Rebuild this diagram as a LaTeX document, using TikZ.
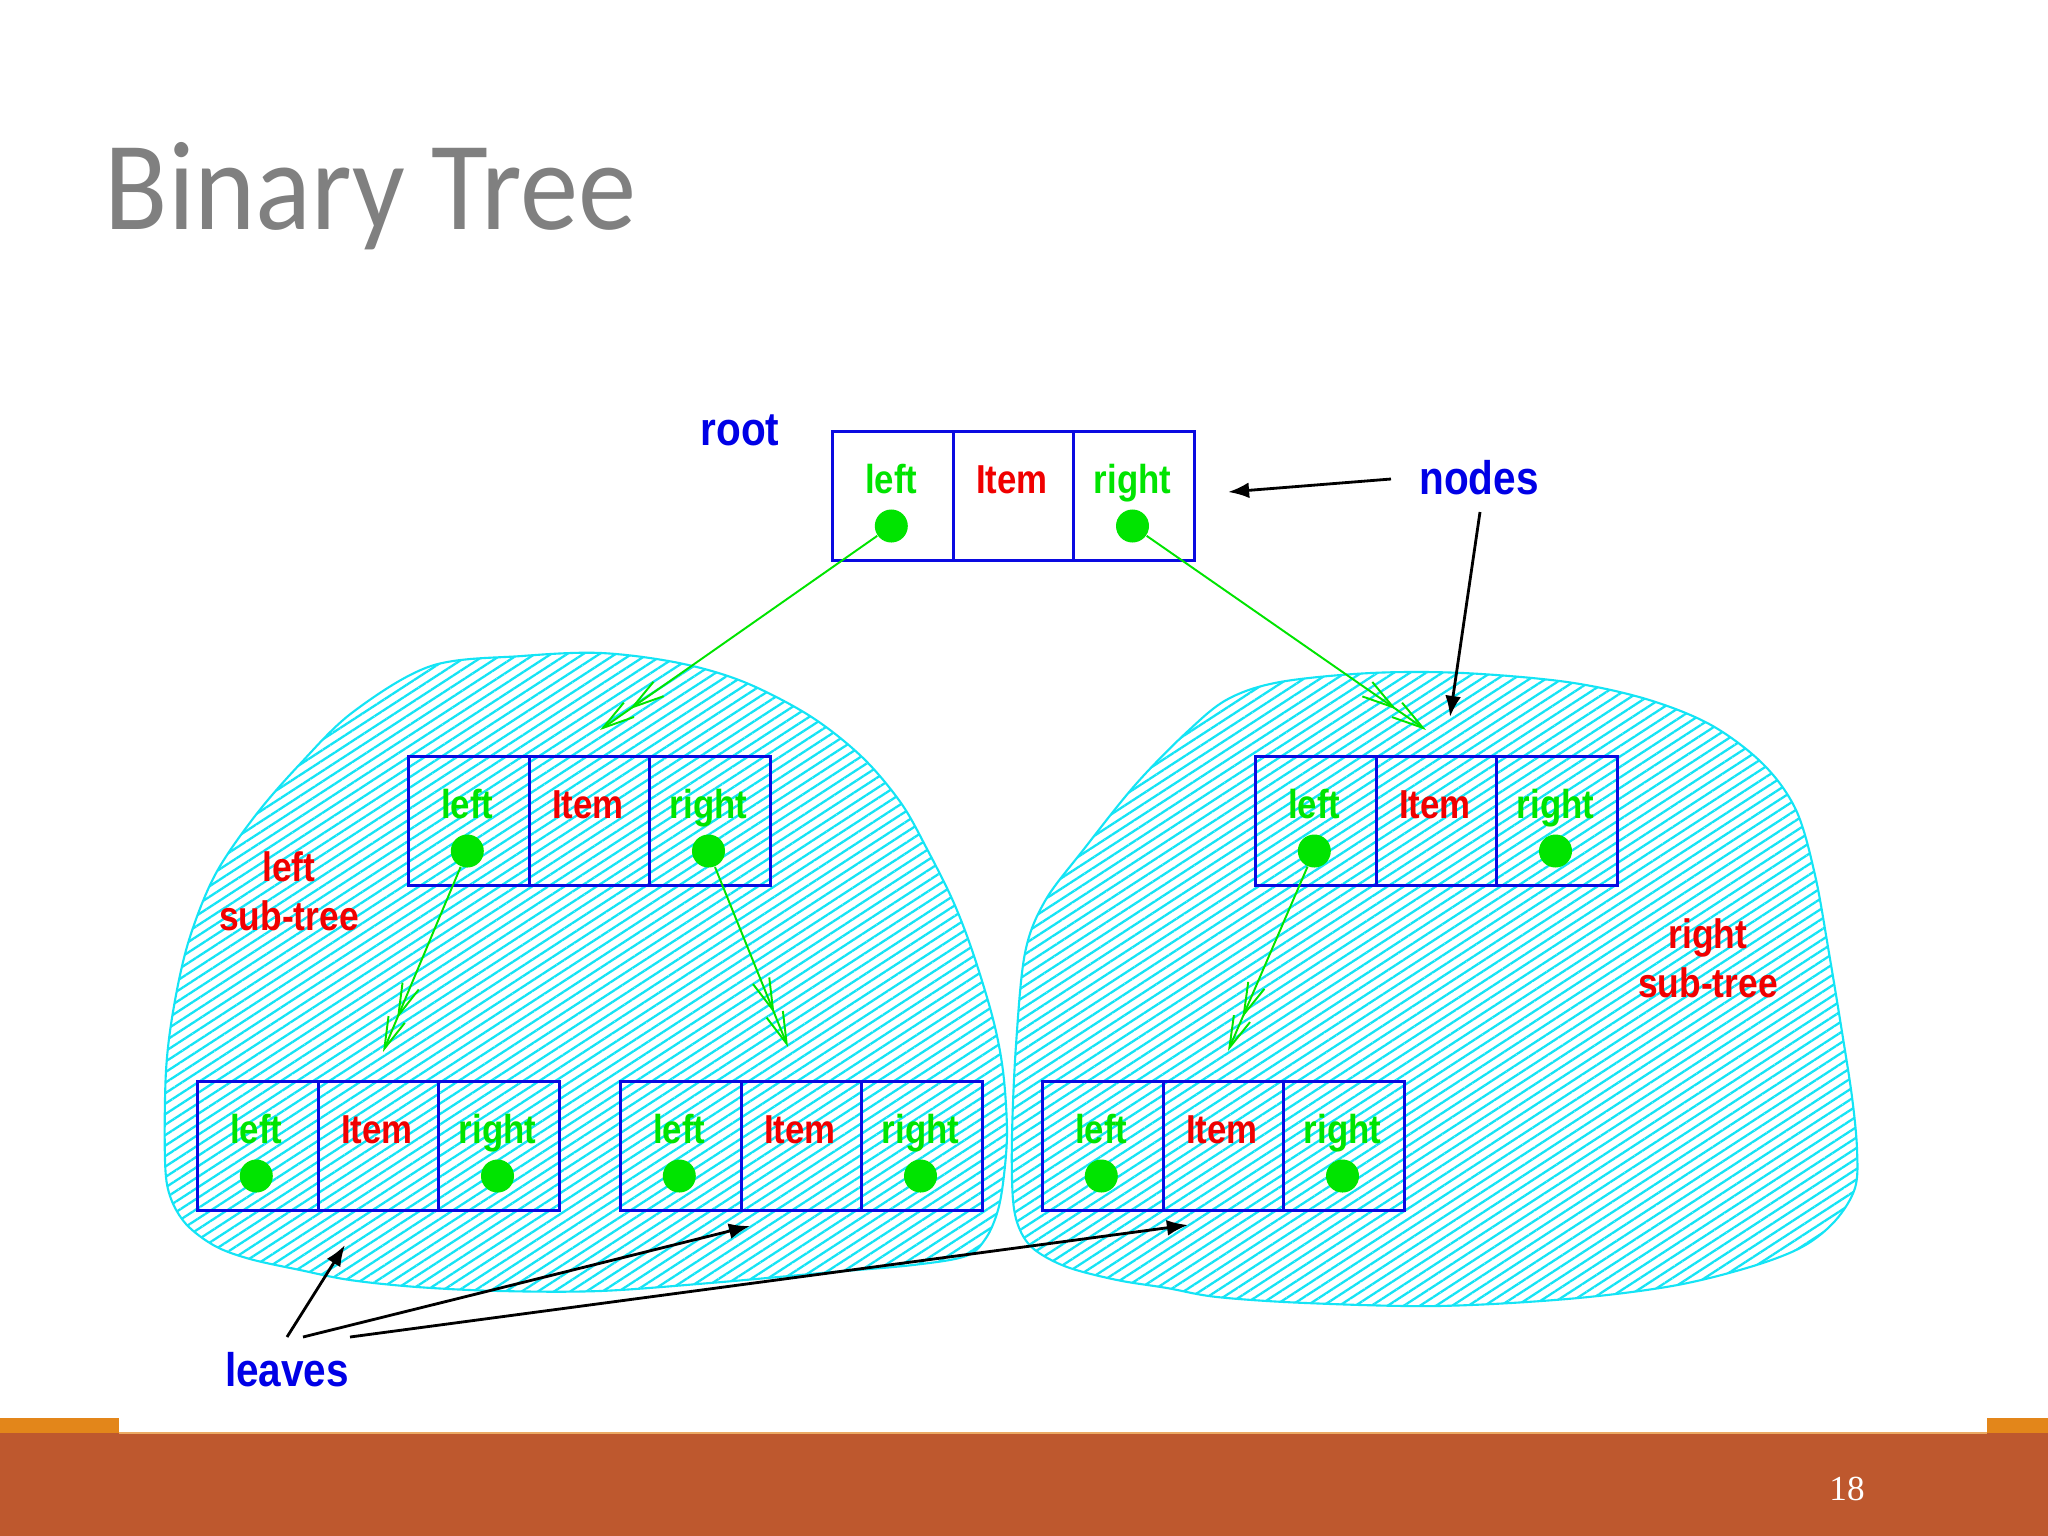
\documentclass[tikz,border=0pt]{standalone}
\usepackage{fontspec}
\usetikzlibrary{arrows.meta,patterns.meta}
\newfontfamily\pixfont[FakeStretch=0.86]{Liberation Sans}
\newfontfamily\titlefont[FakeStretch=0.92]{Carlito}
\newfontfamily\numfont{Liberation Serif}
\definecolor{boxblue}{RGB}{10,10,225}
\definecolor{tblue}{RGB}{0,0,230}
\definecolor{lgreen}{RGB}{0,228,0}
\definecolor{ired}{RGB}{240,0,0}
\definecolor{hatch}{RGB}{20,228,245}
\definecolor{titlegray}{RGB}{128,128,128}
\definecolor{barc}{RGB}{190,88,46}
\definecolor{tabc}{RGB}{227,134,26}
\definecolor{barline}{RGB}{236,170,100}
\tikzset{
  cell/.style={draw=boxblue, line width=0.9pt, minimum width=1.206cm, minimum height=1.29cm, inner sep=0pt, anchor=north west},
  ctext/.style={anchor=base, inner sep=0pt, font=\pixfont\bfseries\fontsize{11.5}{12}\selectfont},
  dot/.style={circle, fill=lgreen, minimum size=0.33cm, inner sep=0pt},
  lbl/.style={inner sep=0pt, text=tblue, font=\pixfont\bfseries\fontsize{13.4}{14}\selectfont},
  sublbl/.style={inner sep=0pt, text=ired, align=center, font=\pixfont\bfseries\fontsize{11.7}{13.9}\selectfont},
  garrow/.style={draw=lgreen, line width=0.55pt, -{Straight Barb[length=9pt,width=5pt]Straight Barb[length=9pt,width=5pt]}},
  barrow/.style={draw=black, line width=0.8pt, -{Latex[length=6pt,width=4.5pt]}},
  blob/.style={draw=hatch, line width=0.6pt, pattern={Lines[angle=33,distance=2.5pt,line width=0.65pt]}, pattern color=hatch},
}
\newcommand\treenode[3]{%
  \node[cell] (#1L) at (#2,#3) {};
  \node[cell] (#1I) at ({#2+120.6},#3) {};
  \node[cell] (#1R) at ({#2+241.2},#3) {};
  \node[ctext,text=lgreen] (#1Lt) at ({#2+60.3},{#3+63}) {left};
  \node[ctext,text=ired] (#1It) at ({#2+180.9},{#3+63}) {Item};
  \node[ctext,text=lgreen] (#1Rt) at ({#2+301.5},{#3+63}) {right};
  \node[dot] (#1Ld) at ({#2+60.3},{#3+96}) {};
  \node[dot] (#1Rd) at ({#2+301.5},{#3+96}) {};
}
\begin{document}
\begin{tikzpicture}[x=0.01cm,y=-0.01cm]
\useasboundingbox (0,0) rectangle (2048,1536);
\fill[white] (0,0) rectangle (2048,1536);
% title
\node[anchor=base west, inner sep=0pt, text=titlegray, font=\titlefont\fontsize{36}{40}\selectfont] (title) at (104,229) {Binary Tree};
% blobs
\path[blob] plot[smooth cycle, tension=0.55] coordinates {
 (431,666) (522,656) (601,653) (679,663) (744,682) (810,716) (862,757) (901,803) (927,849) (953,901) (973,953) (993,1019) (1003,1071) (1007,1130) (1004,1175) (998,1210) (986,1238) (966,1256) (913,1265) (833,1272) (710,1283) (600,1291) (500,1291) (417,1287) (350,1280) (300,1270) (250,1259) (215,1246) (186,1224) (170,1196) (165,1160) (166,1071) (174,1006) (189,940) (215,875) (255,816) (300,764) (353,712)};
\path[blob] plot[smooth cycle, tension=0.55] coordinates {
 (1228,699) (1280,682) (1371,673) (1463,673) (1567,682) (1646,699) (1711,725) (1763,764) (1796,810) (1815,875) (1829,953) (1842,1032) (1852,1097) (1857,1149) (1855,1188) (1835,1221) (1802,1247) (1750,1267) (1672,1286) (1567,1299) (1437,1306) (1306,1303) (1217,1297) (1167,1288) (1117,1280) (1067,1267) (1035,1250) (1020,1230) (1013,1200) (1012,1136) (1016,1045) (1025,953) (1045,901) (1084,849) (1136,784) (1188,731)};
% tree nodes
\treenode{root}{831}{430}
\treenode{a}{407}{755}
\treenode{b}{1254}{755}
\treenode{c}{196}{1080}
\treenode{d}{619}{1080}
\treenode{e}{1041}{1080}
% labels
\node[lbl] (rootlbl) at (740,430) {root};
\node[lbl] (nodeslbl) at (1479,478) {nodes};
\node[lbl] (leaveslbl) at (287,1370) {leaves};
\node[sublbl] (lsub) at (289,891) {left\\sub-tree};
\node[sublbl] (rsub) at (1708,958) {right\\sub-tree};
% green pointer arrows
\coordinate (g1) at (600,730);
\coordinate (g2) at (1426,730);
\coordinate (g3) at (383,1052);
\coordinate (g4) at (788,1047);
\coordinate (g5) at (1228,1051);
\draw[garrow] (rootLd) -- (g1);
\draw[garrow] (rootRd) -- (g2);
\draw[garrow] (aLd) -- (g3);
\draw[garrow] (aRd) -- (g4);
\draw[garrow] (bLd) -- (g5);
% black annotation arrows
\coordinate (ns1) at (1391,479);
\coordinate (nt1) at (1228,492);
\coordinate (ns2) at (1480,512);
\coordinate (nt2) at (1450,717);
\draw[barrow] (ns1) -- (nt1);
\draw[barrow] (ns2) -- (nt2);
\coordinate (ls1) at (287,1337);
\coordinate (ls2) at (303,1337);
\coordinate (ls3) at (350,1337);
\coordinate (lt1) at (345,1245);
\coordinate (lt2) at (750,1226);
\coordinate (lt3) at (1188,1225);
\draw[barrow] (ls1) -- (lt1);
\draw[barrow] (ls2) -- (lt2);
\draw[barrow] (ls3) -- (lt3);
% footer
\fill[barc] (0,1433) rectangle (2048,1536);
\fill[tabc] (0,1418) rectangle (119,1433);
\fill[tabc] (1987,1418) rectangle (2048,1433);
\draw[barline, line width=0.6pt] (119,1433) -- (1987,1433);
\node[text=white, inner sep=0pt, font=\numfont\fontsize{10}{12}\selectfont] (pnum) at (1847,1489) {18};
\end{tikzpicture}
\end{document}
